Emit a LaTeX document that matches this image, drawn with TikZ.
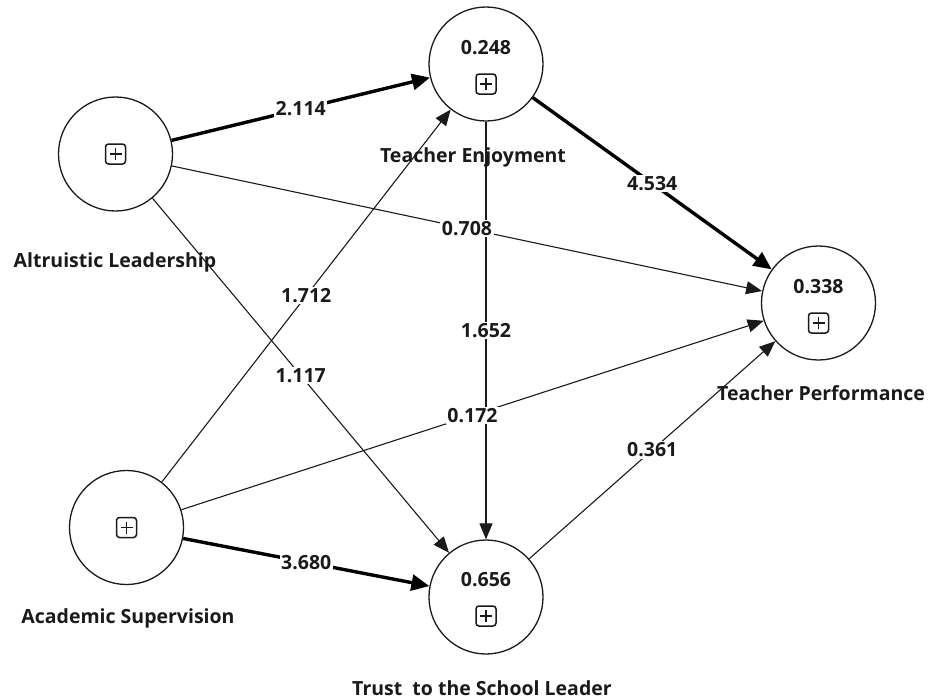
\documentclass[tikz,border=0pt]{standalone}
\usepackage{fontspec}
\setmainfont{Open Sans}
\usetikzlibrary{arrows.meta}
\definecolor{ink}{HTML}{1A1A1A}
\tikzset{
  lv/.style={circle, draw=ink, line width=1.3pt, minimum size=114pt, inner sep=0pt, fill=white},
  edgeln/.style={draw=ink, line width=1.1pt, -{Triangle[length=16pt,width=13pt]}},
  thickedge/.style={draw=black, line width=3.4pt, -{Triangle[length=18pt,width=16pt]}},
  txtb/.style={font=\bfseries\fontsize{19.5}{23}\selectfont, text=ink},
  elab/.style={txtb, fill=white, inner sep=1.5pt},
  lvname/.style={txtb, inner sep=0pt},
  valtxt/.style={txtb, inner sep=0pt},
  pbox/.style={draw=ink, line width=1.5pt, rounded corners=3pt, minimum size=20pt, inner sep=0pt,
    path picture={\draw[line width=1.5pt, ink] ([xshift=-6pt]path picture bounding box.center) -- ([xshift=6pt]path picture bounding box.center)
      ([yshift=-6pt]path picture bounding box.center) -- ([yshift=6pt]path picture bounding box.center);}}
}
\begin{document}
\begin{tikzpicture}[x=1pt,y=-1pt]
\useasboundingbox (0,0) rectangle (929,699);
% latent variables
\node[lv] (al) at (115.5,154) {};
\node[lv] (te) at (486,64) {};
\node[lv] (tp) at (818.5,303) {};
\node[lv] (as) at (126.5,527.5) {};
\node[lv] (tr) at (486,597) {};
% inner content
\node[valtxt] (teV) at (486,48) {0.248};
\node[valtxt] (tpV) at (818.5,287) {0.338};
\node[valtxt] (trV) at (486,580) {0.656};
\node[pbox] (alB) at (115.5,154) {};
\node[pbox] (teB) at (486,84) {};
\node[pbox] (tpB) at (818.5,323) {};
\node[pbox] (asB) at (126.5,527.5) {};
\node[pbox] (trB) at (486,616) {};
% names
\node[lvname] (alN) at (115,262) {Altruistic Leadership};
\node[lvname] (teN) at (473,157) {Teacher Enjoyment};
\node[lvname] (tpN) at (821,393) {Teacher Performance};
\node[lvname] (asN) at (128,618) {Academic Supervision};
\node[lvname] (trN) at (482,688) {Trust\ \ to the School Leader};
% paths
\draw[edgeln] (te) -- node[elab] {1.652} (tr);
\draw[edgeln] (as) -- node[elab] {1.712} (te);
\draw[edgeln] (al) -- node[elab] {1.117} (tr);
\draw[edgeln] (al) -- node[elab] {0.708} (tp);
\draw[edgeln] (as) -- node[elab] {0.172} (tp);
\draw[edgeln] (tr) -- node[elab] {0.361} (tp);
\draw[thickedge] (al) -- node[elab] {2.114} (te);
\draw[thickedge] (te) -- node[elab] {4.534} (tp);
\draw[thickedge] (as) -- node[elab] {3.680} (tr);
\end{tikzpicture}
\end{document}
